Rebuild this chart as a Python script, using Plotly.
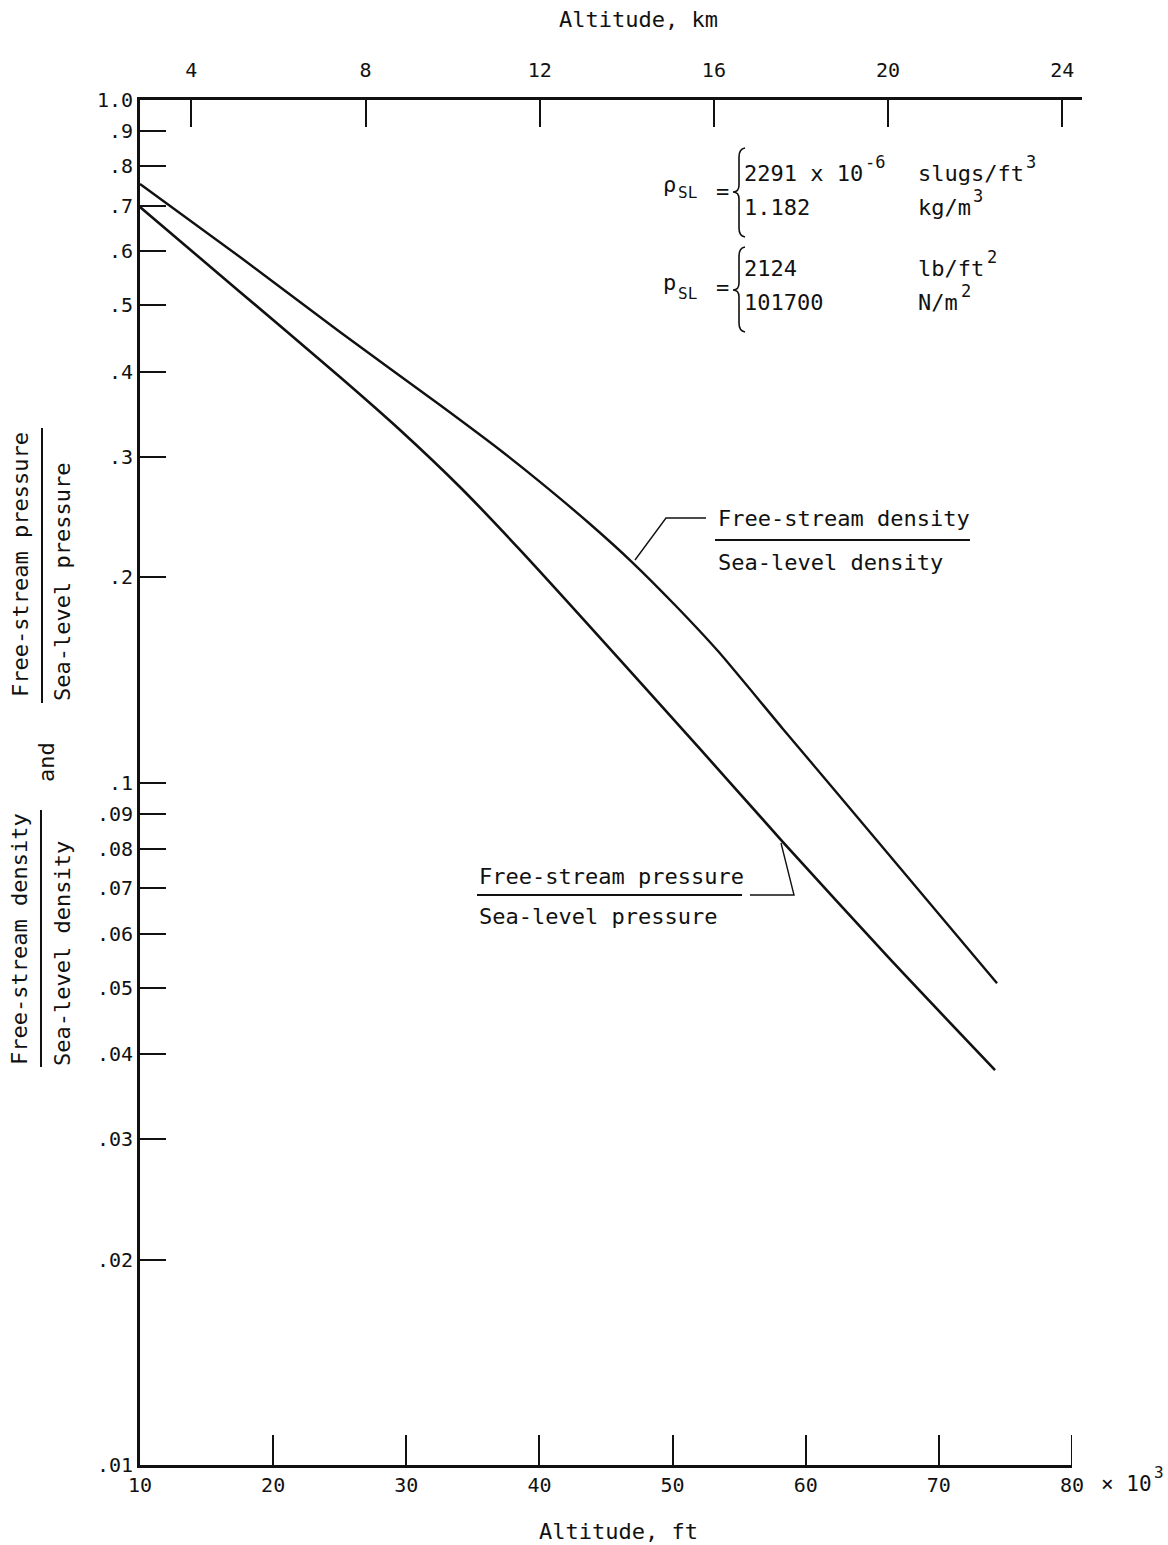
import plotly.graph_objects as go

# Altitude (thousands of ft) and density ratio rho/rho_SL
density_alt_kft = [10.0, 17.51, 25.02, 32.53, 37.04, 40.04, 43.80, 47.03, 50.18,
                   53.41, 58.29, 62.35, 74.37]
density_ratio = [0.7532, 0.5888, 0.4571, 0.3573, 0.3070, 0.2757, 0.2392, 0.2097,
                 0.1820, 0.1558, 0.1198, 0.0965, 0.0508]

# Altitude (thousands of ft) and pressure ratio p/p_SL
pressure_alt_kft = [10.0, 17.51, 25.02, 29.53, 34.03, 38.54, 52.06, 58.29,
                    66.11, 74.22]
pressure_ratio = [0.6969, 0.5233, 0.3928, 0.3285, 0.2710, 0.2192, 0.1120,
                  0.0818, 0.0557, 0.0379]

# Axis ticks
ft_ticks = [10, 20, 30, 40, 50, 60, 70, 80]
km_ticks = [4, 8, 12, 16, 20, 24]
ratio_ticks = [1.0, 0.9, 0.8, 0.7, 0.6, 0.5, 0.4, 0.3, 0.2, 0.1,
               0.09, 0.08, 0.07, 0.06, 0.05, 0.04, 0.03, 0.02, 0.01]
ratio_labels = ["1.0", ".9", ".8", ".7", ".6", ".5", ".4", ".3", ".2", ".1",
                ".09", ".08", ".07", ".06", ".05", ".04", ".03", ".02", ".01"]

FONT = "DejaVu Sans Mono"
INK = "#111111"

# Plot-area geometry in page pixels (used to place notes and shapes)
L, R, T, B = 140, 1082, 100, 1465
W, H = 1168, 1545
FT_RIGHT = 1072  # right end of the ft scale


def px(x):
    return (x - L) / (R - L)


def py(y):
    return (B - y) / (B - T)


fig = go.Figure()

fig.add_trace(go.Scatter(
    x=density_alt_kft, y=density_ratio, mode="lines",
    line=dict(color=INK, width=2.4, shape="spline", smoothing=0.6),
    xaxis="x", yaxis="y", showlegend=False, hoverinfo="skip"))
fig.add_trace(go.Scatter(
    x=pressure_alt_kft, y=pressure_ratio, mode="lines",
    line=dict(color=INK, width=2.6, shape="spline", smoothing=0.8),
    xaxis="x", yaxis="y", showlegend=False, hoverinfo="skip"))
# carrier for the km scale on top
fig.add_trace(go.Scatter(
    x=[km_ticks[0]], y=[0.5], mode="markers", marker=dict(opacity=0),
    xaxis="x2", yaxis="y", showlegend=False, hoverinfo="skip"))

km_lo = (L - 17.1) / 43.55
km_hi = (R - 17.1) / 43.55

tickfont = dict(family=FONT, size=20, color=INK)

fig.update_layout(
    width=W, height=H,
    margin=dict(l=L, r=W - R, t=T, b=H - B, pad=0),
    paper_bgcolor="white", plot_bgcolor="rgba(0,0,0,0)",
    font=dict(family=FONT, size=20, color=INK),
    xaxis=dict(
        domain=[0, (FT_RIGHT - L) / (R - L)], range=[10, 80], anchor="y",
        tickvals=ft_ticks, ticktext=[str(v) for v in ft_ticks],
        ticks="inside", ticklen=30, tickwidth=2, tickcolor=INK,
        showline=True, linewidth=3, linecolor=INK,
        showgrid=False, zeroline=False, tickfont=tickfont,
    ),
    xaxis2=dict(
        domain=[0, 1], range=[km_lo, km_hi], anchor="y", side="top",
        tickvals=km_ticks, ticktext=[str(v) for v in km_ticks],
        ticks="inside", ticklen=27, tickwidth=2, tickcolor=INK,
        showline=True, linewidth=3, linecolor=INK,
        showgrid=False, zeroline=False, tickfont=tickfont,
        ticklabelstandoff=12,
    ),
    yaxis=dict(
        type="log", range=[-2, 0], anchor="x",
        tickvals=ratio_ticks, ticktext=ratio_labels,
        ticks="inside", ticklen=26, tickwidth=2, tickcolor=INK,
        showline=True, linewidth=3, linecolor=INK,
        showgrid=False, zeroline=False, tickfont=tickfont,
    ),
)

ann = []


def note(x, y, text, size=22, xanchor="center", yanchor="middle", angle=0):
    ann.append(dict(x=px(x), y=py(y), xref="paper", yref="paper", text=text,
                    showarrow=False, xanchor=xanchor, yanchor=yanchor,
                    textangle=angle, font=dict(family=FONT, size=size, color=INK)))


# axis titles
note(638, 20, "Altitude, km")
note(618, 1531, "Altitude, ft")
note(1099, 1484, "× 10", size=21, xanchor="left")
note(1152, 1472, "3", size=16, xanchor="left")

# left title: two stacked ratios
note(20, 565, "Free-stream pressure", angle=-90)
note(62, 582, "Sea-level pressure", angle=-90)
note(46, 762, "and", angle=-90)
note(19, 939, "Free-stream density", angle=-90)
note(62, 954, "Sea-level density", angle=-90)

# curve labels
note(716, 518, "Free-stream density", xanchor="left")
note(716, 562, "Sea-level density", xanchor="left")
note(477, 876, "Free-stream pressure", xanchor="left")
note(477, 916, "Sea-level pressure", xanchor="left")

# sea-level reference values
note(661, 184, "ρ", xanchor="left")
note(676, 193, "SL", size=16, xanchor="left")
note(722, 192, "=")
note(742, 173, "2291 x 10", xanchor="left")
note(863, 162, "-6", size=17, xanchor="left")
note(742, 207, "1.182", xanchor="left")
note(916, 173, "slugs/ft", xanchor="left")
note(1024, 162, "3", size=17, xanchor="left")
note(916, 207, "kg/m", xanchor="left")
note(971, 196, "3", size=17, xanchor="left")

note(661, 282, "p", xanchor="left")
note(676, 293, "SL", size=16, xanchor="left")
note(722, 288, "=")
note(742, 268, "2124", xanchor="left")
note(742, 302, "101700", xanchor="left")
note(916, 268, "lb/ft", xanchor="left")
note(985, 257, "2", size=17, xanchor="left")
note(916, 302, "N/m", xanchor="left")
note(959, 291, "2", size=17, xanchor="left")

fig.update_layout(annotations=ann)

shapes = []


def seg(pts, width=1.6):
    d = "M " + " L ".join(f"{px(x):.5f},{py(y):.5f}" for x, y in pts)
    shapes.append(dict(type="path", path=d, xref="paper", yref="paper",
                       line=dict(color=INK, width=width)))


def brace(x, top, mid, bot):
    c = lambda a, b: f"{px(a):.5f},{py(b):.5f}"
    d = (f"M {c(x + 6, top)} Q {c(x, top + 1)} {c(x, top + 9)} "
         f"L {c(x, mid - 7)} Q {c(x, mid)} {c(x - 6, mid)} "
         f"Q {c(x, mid)} {c(x, mid + 7)} "
         f"L {c(x, bot - 9)} Q {c(x, bot - 1)} {c(x + 6, bot)}")
    shapes.append(dict(type="path", path=d, xref="paper", yref="paper",
                       line=dict(color=INK, width=1.6)))


# closing tick at the right end of the ft scale
shapes.append(dict(type="line", xref="x", yref="paper", x0=ft_ticks[-1], x1=ft_ticks[-1],
                   y0=0, y1=30 / (B - T), line=dict(color=INK, width=2)))

# fraction bars of the left title
seg([(42, 428), (42, 703)], 2)
seg([(41, 810), (41, 1067)], 2)
# fraction bars and leaders of the curve labels
seg([(715, 540), (970, 540)], 2)
seg([(635, 560), (666, 518), (706, 518)], 1.4)
seg([(477, 895), (742, 895)], 2)
seg([(750, 895), (794, 895), (781, 843)], 1.4)
# braces
brace(739, 148, 192, 237)
brace(739, 247, 290, 332)

fig.update_layout(shapes=shapes)

fig.write_html("out.html")
